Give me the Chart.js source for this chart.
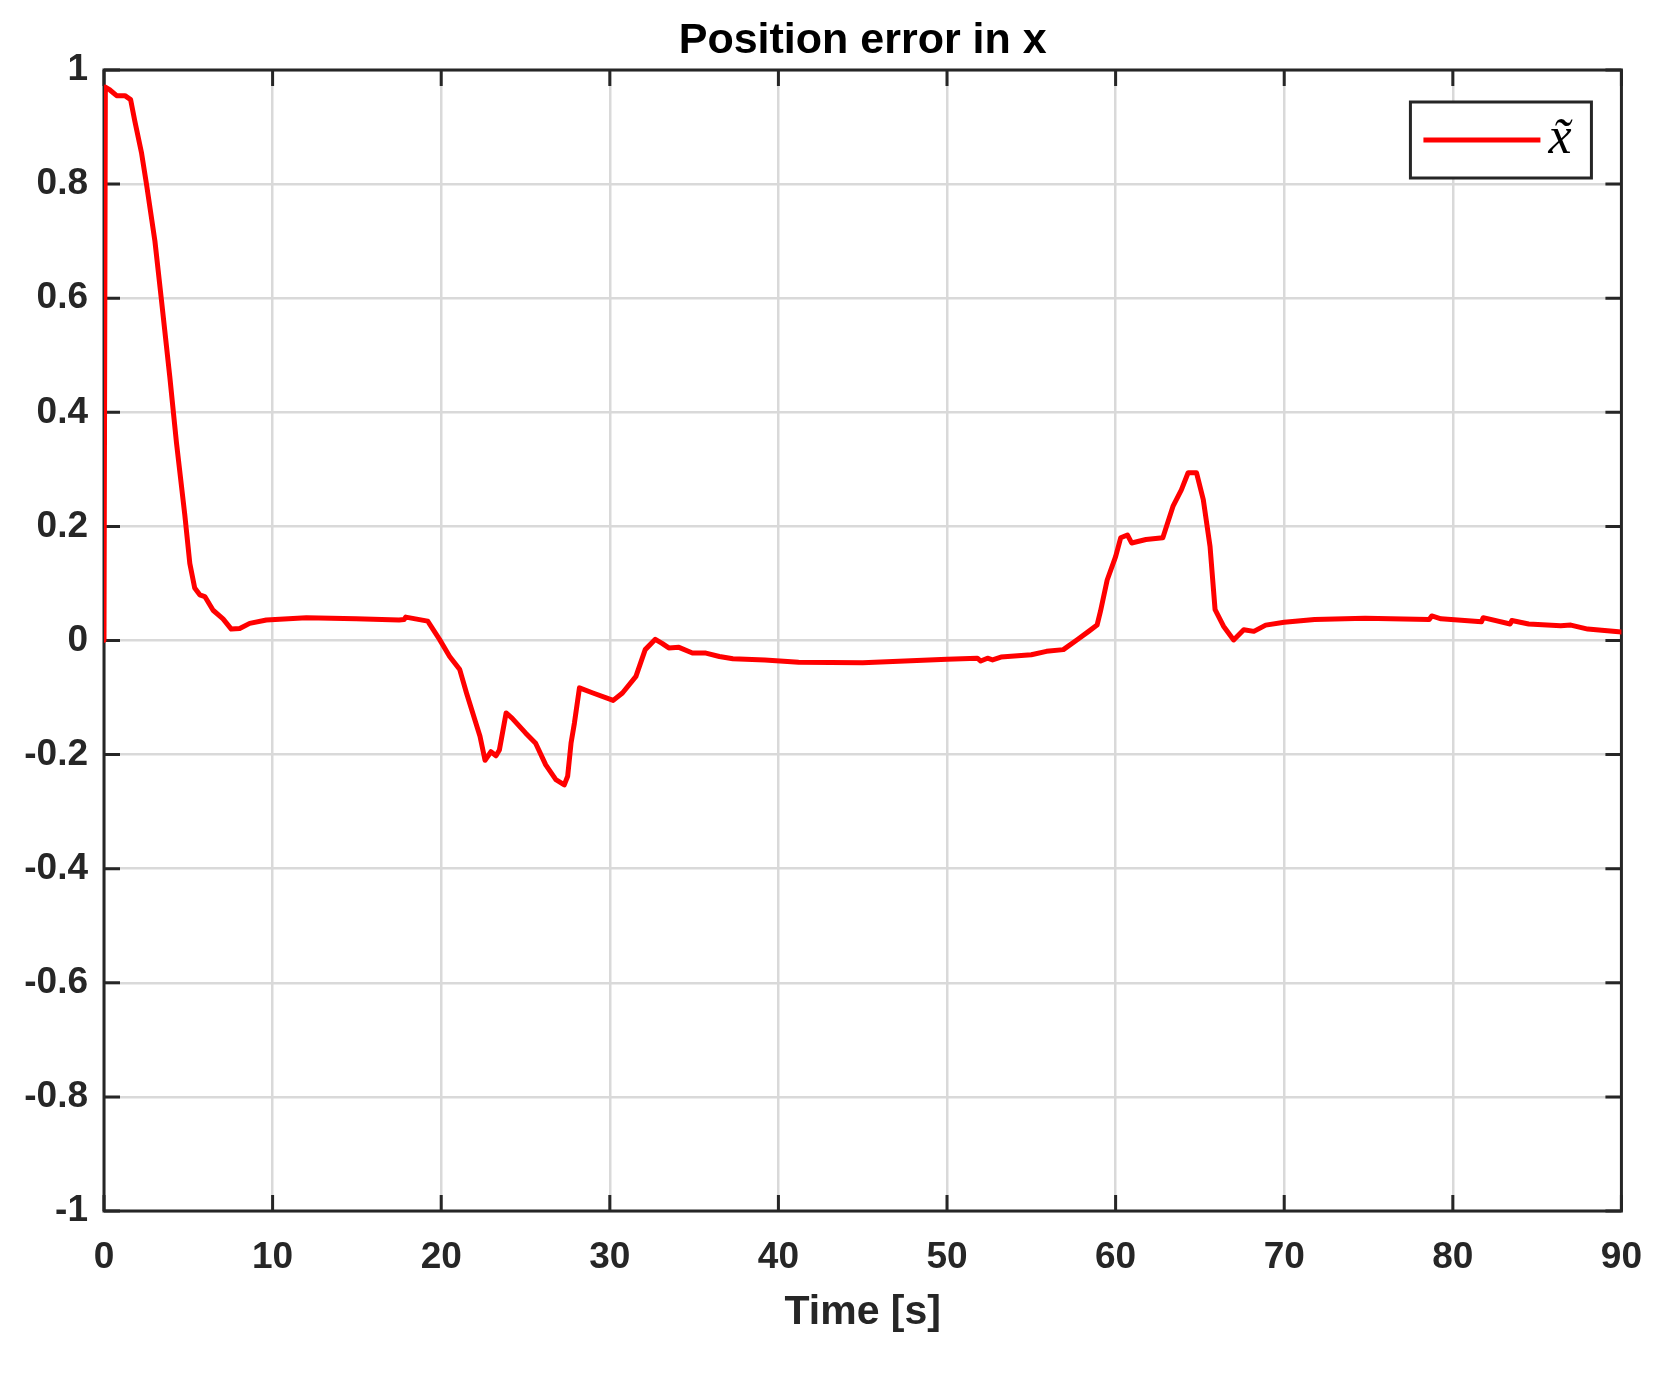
<!DOCTYPE html>
<html>
<head>
<meta charset="utf-8">
<title>Position error in x</title>
<script src="https://cdn.jsdelivr.net/npm/chart.js@4.4.1/dist/chart.umd.min.js"></script>
<style>
  html, body { margin: 0; padding: 0; background: #fff; }
</style>
</head>
<body>
<canvas id="chart" width="1667" height="1386"></canvas>
<script>
// values
const timeSec = [
  0, 0.08, 0.35, 0.75, 1.24, 1.58, 1.83, 2.23, 2.52, 3.02, 3.41, 3.9, 4.3, 4.79, 5.09, 5.38, 5.68, 5.98,
  6.47, 7.06, 7.55, 8.05, 8.64, 9.63, 12.0, 14.95, 17.5, 17.8, 17.9, 19.2, 19.9, 20.5, 21.1, 21.5, 22.3,
  22.6, 22.95, 23.25, 23.45, 23.85, 24.2, 25.0, 25.6, 26.2, 26.8, 27.3, 27.5, 27.7, 27.9, 28.2, 29.0,
  30.2, 30.75, 31.55, 32.1, 32.7, 33.1, 33.5, 34.1, 34.9, 35.7, 36.5, 37.3, 39.2, 41.2, 45.0, 50.0,
  51.8, 52.0, 52.4, 52.7, 53.2, 55.0, 55.9, 56.9, 57.7, 58.4, 58.9, 59.1, 59.5, 60.0, 60.3, 60.7, 60.95,
  61.8, 62.8, 63.4, 63.9, 64.3, 64.8, 65.2, 65.6, 65.9, 66.4, 67.0, 67.6, 68.2, 68.9, 70.0, 71.8, 74.8,
  78.6, 78.75, 79.3, 81.7, 81.8, 83.4, 83.5, 84.5, 86.4, 87.0, 88.0, 90.0
];
const errorX = [
  0, 0.97, 0.965, 0.955, 0.955, 0.948, 0.91, 0.854, 0.8, 0.7, 0.596, 0.463, 0.346, 0.221, 0.135, 0.092, 0.08, 0.077,
  0.053, 0.038, 0.02, 0.021, 0.03, 0.036, 0.04, 0.038, 0.036, 0.037, 0.041, 0.034, 0.002, -0.028, -0.051, -0.092, -0.168,
  -0.21, -0.195, -0.202, -0.192, -0.127, -0.136, -0.162, -0.18, -0.218, -0.244, -0.253, -0.238, -0.18, -0.145, -0.083, -0.092,
  -0.105, -0.092, -0.063, -0.016, 0.002, -0.005, -0.013, -0.012, -0.022, -0.022, -0.028, -0.032, -0.034, -0.038, -0.039, -0.033,
  -0.031, -0.036, -0.031, -0.034, -0.029, -0.025, -0.019, -0.016, 0.001, 0.016, 0.027, 0.051, 0.106, 0.147, 0.18, 0.185, 0.171,
  0.177, 0.18, 0.235, 0.264, 0.294, 0.294, 0.247, 0.165, 0.054, 0.025, 0.001, 0.019, 0.016, 0.027, 0.032, 0.037, 0.039,
  0.037, 0.043, 0.038, 0.033, 0.04, 0.029, 0.035, 0.029, 0.026, 0.027, 0.02, 0.015
];
const xTicks = [0, 10, 20, 30, 40, 50, 60, 70, 80, 90];
const xTickLabels = ['0', '10', '20', '30', '40', '50', '60', '70', '80', '90'];
const yTicks = [-1, -0.8, -0.6, -0.4, -0.2, 0, 0.2, 0.4, 0.6, 0.8, 1];
const yTickLabels = ['-1', '-0.8', '-0.6', '-0.4', '-0.2', '0', '0.2', '0.4', '0.6', '0.8', '1'];
const titleText = 'Position error in x';

const axisColor = '#262626';
const sansFont = "'Liberation Sans', Arial, Helvetica, sans-serif";

// matlab style box with inward ticks on all four sides
const boxAxes = {
  id: 'boxAxes',
  beforeDatasetsDraw(chart) {
    const { ctx, chartArea: a, scales: { x, y } } = chart;
    const len = 16;
    ctx.save();
    ctx.strokeStyle = axisColor;
    ctx.lineWidth = 3;
    ctx.beginPath();
    xTicks.forEach(v => {
      const px = x.getPixelForValue(v);
      ctx.moveTo(px, a.bottom); ctx.lineTo(px, a.bottom - len);
      ctx.moveTo(px, a.top); ctx.lineTo(px, a.top + len);
    });
    yTicks.forEach(v => {
      const py = y.getPixelForValue(v);
      ctx.moveTo(a.left, py); ctx.lineTo(a.left + len, py);
      ctx.moveTo(a.right, py); ctx.lineTo(a.right - len, py);
    });
    ctx.stroke();
    ctx.strokeRect(a.left, a.top, a.right - a.left, a.bottom - a.top);
    ctx.restore();
  }
};

// title centred over the plot box, plus boxed legend in the upper right corner
const boxLegend = {
  id: 'boxLegend',
  afterDraw(chart) {
    const { ctx, chartArea: a } = chart;
    ctx.save();
    ctx.fillStyle = '#000';
    ctx.font = 'bold 43px ' + sansFont;
    ctx.textAlign = 'center';
    ctx.textBaseline = 'alphabetic';
    ctx.fillText(titleText, (a.left + a.right) / 2, a.top - 17);

    const ds = chart.data.datasets[0];
    const w = 181, h = 76;
    const bx = a.right - 30 - w, by = a.top + 32;
    ctx.fillStyle = '#fff';
    ctx.fillRect(bx, by, w, h);
    ctx.strokeStyle = axisColor;
    ctx.lineWidth = 3;
    ctx.strokeRect(bx, by, w, h);
    ctx.strokeStyle = ds.borderColor;
    ctx.lineWidth = 5;
    ctx.beginPath();
    ctx.moveTo(bx + 13, by + h / 2);
    ctx.lineTo(bx + 130, by + h / 2);
    ctx.stroke();
    ctx.fillStyle = '#000';
    ctx.font = "italic 52px 'Liberation Serif', 'DejaVu Serif', serif";
    ctx.textAlign = 'left';
    ctx.fillText(ds.label, bx + 138, by + h / 2 + 13);
    ctx.restore();
  }
};

new Chart(document.getElementById('chart'), {
  type: 'line',
  data: {
    datasets: [{
      label: 'x\u0303',
      data: timeSec.map((t, i) => ({ x: t, y: errorX[i] })),
      borderColor: '#ff0000',
      borderWidth: 5,
      borderJoinStyle: 'round',
      borderCapStyle: 'round',
      pointRadius: 0,
      tension: 0,
      fill: false
    }]
  },
  options: {
    responsive: false,
    animation: false,
    devicePixelRatio: 1,
    layout: { padding: { left: 0, right: 44, top: 70, bottom: 0 } },
    plugins: {
      legend: { display: false },
      tooltip: { enabled: false },
      title: { display: false }
    },
    scales: {
      x: {
        type: 'linear',
        min: 0,
        max: 90,
        afterBuildTicks: s => { s.ticks = xTicks.map(v => ({ value: v })); },
        afterFit: s => { s.height = 175; },
        grid: { color: '#d9d9d9', lineWidth: 2.5, drawTicks: false },
        border: { display: false },
        ticks: {
          color: axisColor,
          padding: 25,
          maxRotation: 0,
          font: { family: sansFont, size: 37, weight: 'bold' },
          callback: (v, i) => xTickLabels[i]
        },
        title: {
          display: true,
          text: 'Time [s]',
          color: axisColor,
          font: { family: sansFont, size: 41, weight: 'bold', lineHeight: 1.2 },
          padding: { top: 0, bottom: 49 }
        }
      },
      y: {
        min: -1,
        max: 1,
        afterBuildTicks: s => { s.ticks = yTicks.map(v => ({ value: v })); },
        afterFit: s => { s.width = 104; },
        grid: { color: '#d9d9d9', lineWidth: 2.5, drawTicks: false },
        border: { display: false },
        ticks: {
          color: axisColor,
          padding: 16,
          font: { family: sansFont, size: 37, weight: 'bold' },
          callback: (v, i) => yTickLabels[i]
        }
      }
    }
  },
  plugins: [boxAxes, boxLegend]
});
</script>
</body>
</html>
